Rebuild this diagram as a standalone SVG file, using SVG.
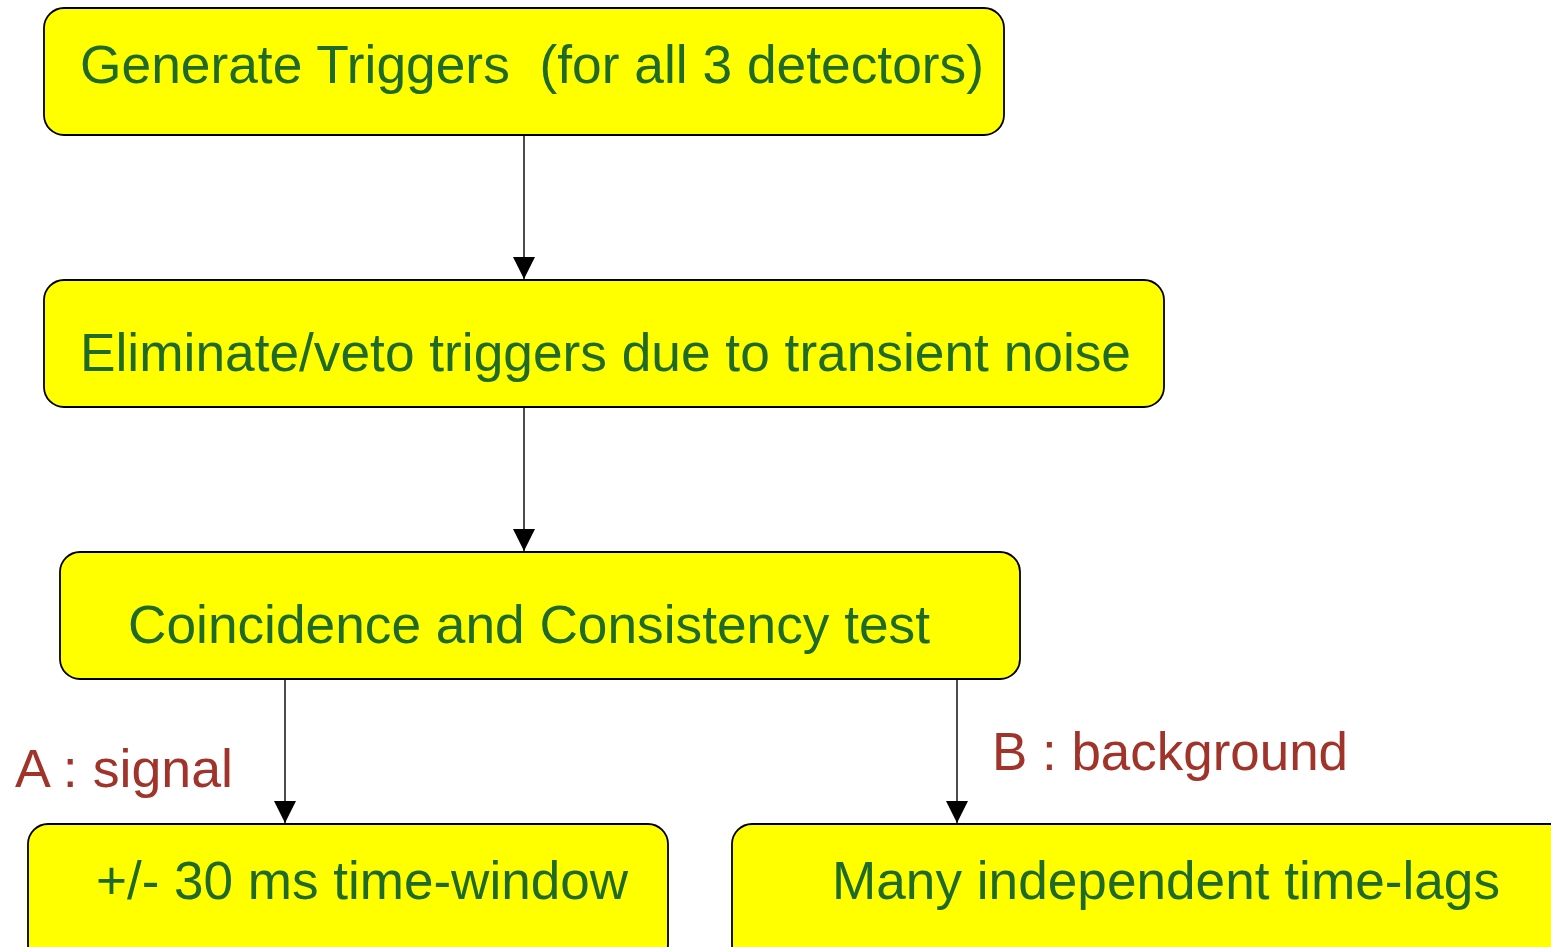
<svg xmlns="http://www.w3.org/2000/svg" width="1551" height="947" viewBox="0 0 1551 947">
<style>
.box{fill:#ffff00;stroke:#000;stroke-width:1.8}
.t{font-family:"Liberation Sans",Arial,sans-serif;font-size:53px;fill:#1f6a28}
.l{font-family:"Liberation Sans",Arial,sans-serif;font-size:53px;fill:#a0342a}
.c{stroke:#000;stroke-width:1.4;fill:none;marker-end:url(#ah)}
</style>
<defs>
<marker id="ah" markerUnits="userSpaceOnUse" markerWidth="22" markerHeight="22" viewBox="0 0 20 20" refX="20" refY="10" orient="auto">
<path d="M0,0 L20,10 L0,20 Z" fill="#000"/>
</marker>
</defs>
<rect width="1551" height="947" fill="#fff"/>
<g id="connectors">
<line class="c" x1="524" y1="135" x2="524" y2="279"/>
<line class="c" x1="524" y1="407" x2="524" y2="551"/>
<line class="c" x1="285" y1="679" x2="285" y2="823"/>
<line class="c" x1="957" y1="679" x2="957" y2="823"/>
</g>
<g id="n1">
<rect class="box" x="44" y="8" width="960" height="127" rx="20"/>
<text class="t" x="80" y="83" textLength="904" lengthAdjust="spacingAndGlyphs" xml:space="preserve">Generate Triggers  (for all 3 detectors)</text>
</g>
<g id="n2">
<rect class="box" x="44" y="280" width="1120" height="127" rx="20"/>
<text class="t" x="80" y="371" textLength="1051" lengthAdjust="spacingAndGlyphs">Eliminate/veto triggers due to transient noise</text>
</g>
<g id="n3">
<rect class="box" x="60" y="552" width="960" height="127" rx="20"/>
<text class="t" x="128" y="643" textLength="802" lengthAdjust="spacingAndGlyphs">Coincidence and Consistency test</text>
</g>
<g id="n4">
<rect class="box" x="28" y="824" width="640" height="140" rx="20"/>
<text class="t" x="96" y="899" textLength="532" lengthAdjust="spacingAndGlyphs">+/- 30 ms time-window</text>
</g>
<g id="n5">
<rect class="box" x="732" y="824" width="840" height="140" rx="20"/>
<text class="t" x="832" y="899" textLength="668" lengthAdjust="spacingAndGlyphs">Many independent time-lags</text>
</g>
<g id="labels">
<text class="l" x="15" y="787" textLength="218" lengthAdjust="spacingAndGlyphs">A : signal</text>
<text class="l" x="992" y="770" textLength="356" lengthAdjust="spacingAndGlyphs">B : background</text>
</g>
</svg>
